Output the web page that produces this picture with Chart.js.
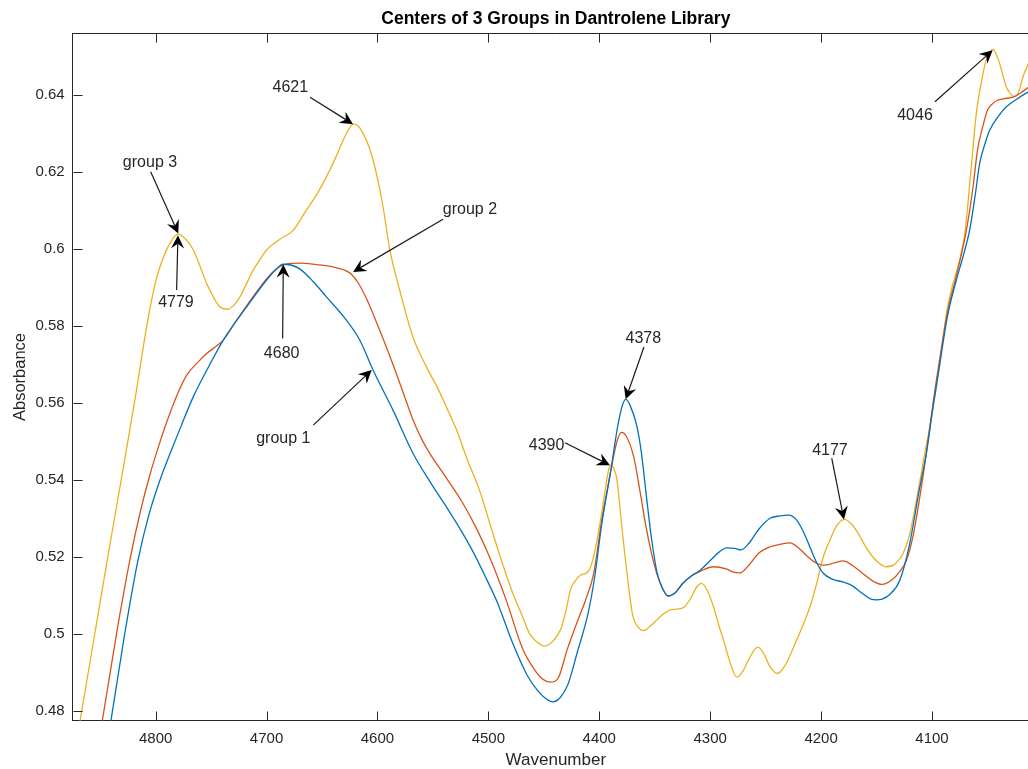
<!DOCTYPE html>
<html><head><meta charset="utf-8">
<script src="https://cdn.jsdelivr.net/npm/chart.js@4.4.1/dist/chart.umd.min.js"></script>
<style>html,body{margin:0;padding:0;background:#fff;overflow:hidden;width:1028px;height:769px}canvas{display:block}</style>
</head><body>
<canvas id="c" width="1040" height="769"></canvas>
<script>
// ---------- data ----------
const chartTitle = 'Centers of 3 Groups in Dantrolene Library';
const xTitle = 'Wavenumber';
const yTitle = 'Absorbance';
const seriesNames = ['group 1', 'group 2', 'group 3'];
const seriesColors = ['#0072BD', '#D95319', '#EDB120'];

const xTicks = [4800, 4700, 4600, 4500, 4400, 4300, 4200, 4100];
const xTickLabels = ['4800', '4700', '4600', '4500', '4400', '4300', '4200', '4100'];
const yTicks = [0.48, 0.50, 0.52, 0.54, 0.56, 0.58, 0.60, 0.62, 0.64];
const yTickLabels = ['0.48', '0.5', '0.52', '0.54', '0.56', '0.58', '0.6', '0.62', '0.64'];
const xLimits = [4003.5, 4874.8];
const yLimits = [0.4774, 0.6560];

// group 1 (blue)
const wn1 = [4880,4860,4850,4840,4828,4816,4806,4796,4787,4777,4766,4752,4739,4718,4700,4692,4685,4678,4670,4658,4646,4630,4616,4604,4586,4568,4552,4538,4525,4514,4503,4492,4478,4465,4455,4448,4442,4435,4428,4420,4410,4404,4398,4390,4383,4379,4376,4372,4366,4362,4358,4353,4348,4343,4338,4332,4325,4317,4309,4300,4292,4285,4278,4272,4265,4256,4246,4237,4229,4222,4216,4210,4204,4198,4190,4180,4172,4163,4155,4150,4145,4138,4129,4120,4112,4105,4099,4093,4086,4078,4072,4066,4061,4057,4052,4048,4040,4033,4023,4013,4003];
const ab1 = [0.405,0.440,0.458,0.4780,0.4998,0.5190,0.5310,0.5400,0.5468,0.5540,0.5616,0.5695,0.5763,0.5849,0.5919,0.5945,0.5960,0.5958,0.5948,0.5915,0.5875,0.5822,0.5763,0.5685,0.5581,0.5469,0.5392,0.5330,0.5270,0.5214,0.5150,0.5082,0.4975,0.4892,0.4850,0.4831,0.4823,0.4835,0.4870,0.4950,0.5054,0.5150,0.5280,0.5417,0.5545,0.5595,0.5609,0.5592,0.5538,0.5470,0.5370,0.5250,0.5160,0.5118,0.5098,0.5105,0.5130,0.5150,0.5165,0.5190,0.5212,0.5223,0.5222,0.5218,0.5235,0.5272,0.5300,0.5306,0.5308,0.5295,0.5265,0.5225,0.5185,0.5157,0.5142,0.5134,0.5125,0.5105,0.5090,0.5088,0.5090,0.5102,0.5139,0.5235,0.5365,0.5470,0.5590,0.5700,0.5825,0.5919,0.5980,0.6049,0.6140,0.6222,0.6275,0.6308,0.6345,0.6369,0.6390,0.6408,0.6425];

// group 2 (red)
const wn2 = [4880,4860,4848,4835,4823,4814,4805,4797,4790,4780,4772,4762,4754,4745,4739,4728,4718,4700,4690,4682,4670,4655,4640,4630,4624,4617,4609,4601,4592,4583,4575,4568,4560,4553,4538,4523,4511,4499,4484,4469,4458,4450,4444,4437,4429,4420,4412,4405,4398,4390,4384,4380,4376,4369,4363,4358,4353,4348,4343,4338,4332,4325,4317,4309,4297,4285,4279,4273,4266,4256,4246,4237,4228,4220,4212,4204,4197,4188,4180,4172,4163,4154,4145,4136,4129,4123,4117,4111,4105,4099,4093,4086,4078,4069,4063,4059,4054,4050,4045,4041,4035,4027,4020,4013,4003];
const ab2 = [0.420,0.455,0.4776,0.5005,0.5195,0.5315,0.5415,0.5490,0.5550,0.5625,0.5672,0.5705,0.5728,0.5748,0.5763,0.5810,0.5852,0.5922,0.5950,0.5961,0.5963,0.5959,0.5953,0.5945,0.5935,0.5910,0.5865,0.5810,0.5745,0.5676,0.5612,0.5556,0.5505,0.5469,0.5405,0.5339,0.5275,0.5200,0.5088,0.4960,0.4905,0.4880,0.4874,0.4885,0.4958,0.5030,0.5090,0.5157,0.5290,0.5417,0.5500,0.5523,0.5515,0.5460,0.5365,0.5280,0.5210,0.5155,0.5118,0.5098,0.5105,0.5130,0.5150,0.5162,0.5174,0.5168,0.5160,0.5158,0.5175,0.5210,0.5226,0.5232,0.5236,0.5222,0.5200,0.5183,0.5178,0.5184,0.5189,0.5178,0.5158,0.5138,0.5128,0.5140,0.5162,0.5191,0.5255,0.5355,0.5470,0.5600,0.5715,0.5835,0.5930,0.6048,0.6160,0.6256,0.6320,0.6360,0.6378,0.6386,0.6390,0.6394,0.6405,0.6420,0.6435];

// group 3 (yellow)
const wn3 = [4880,4868,4855,4843,4831,4818,4808,4800,4792,4786,4780,4773,4766,4760,4754,4748,4742,4735,4729,4724,4718,4712,4706,4700,4688,4676,4664,4655,4646,4638,4631,4626,4622,4617,4613,4607,4601,4595,4589,4580,4568,4556,4546,4538,4528,4520,4508,4496,4487,4478,4470,4463,4456,4449,4442,4435,4430,4426,4421,4417,4410,4406,4402,4396,4392,4390,4387,4384,4380,4375,4370,4364,4360,4354,4348,4342,4336,4330,4324,4318,4312,4308,4303,4297,4292,4288,4282,4276,4270,4264,4257,4251,4246,4239,4232,4222,4210,4204,4198,4192,4186,4179,4172,4166,4160,4154,4148,4141,4133,4126,4120,4114,4107,4100,4093,4087,4081,4075,4070,4065,4060,4055,4052,4048,4045,4042,4039,4036,4033,4029,4025,4021,4018,4013,4008,4003];
const ab3 = [0.457,0.4776,0.4998,0.5202,0.5401,0.5620,0.5800,0.5915,0.5985,0.6020,0.6038,0.6025,0.5997,0.5955,0.5910,0.5875,0.5849,0.5843,0.5855,0.5875,0.5910,0.5945,0.5972,0.5997,0.6025,0.6048,0.6101,0.6140,0.6187,0.6235,0.6282,0.6310,0.6324,0.6318,0.6300,0.6260,0.6196,0.6110,0.6000,0.5893,0.5771,0.5694,0.5640,0.5590,0.5525,0.5460,0.5373,0.5261,0.5180,0.5105,0.5050,0.5001,0.4978,0.4968,0.4980,0.5010,0.5060,0.5114,0.5140,0.5152,0.5161,0.5190,0.5243,0.5347,0.5420,0.5438,0.5430,0.5399,0.5287,0.5157,0.5050,0.5014,0.5008,0.5020,0.5036,0.5052,0.5062,0.5064,0.5068,0.5090,0.5122,0.5131,0.5115,0.5070,0.5020,0.4984,0.4925,0.4887,0.4905,0.4940,0.4965,0.4945,0.4914,0.4897,0.4920,0.4984,0.5070,0.5130,0.5200,0.5243,0.5280,0.5297,0.5283,0.5258,0.5227,0.5202,0.5184,0.5174,0.5182,0.5209,0.5260,0.5347,0.5460,0.5570,0.5700,0.5832,0.5910,0.5971,0.6048,0.6200,0.6352,0.6440,0.6482,0.6510,0.6518,0.6505,0.6482,0.6450,0.6421,0.6402,0.6395,0.6415,0.6447,0.6482,0.6520,0.6560];

// text arrows: label, label centre [wavenumber, absorbance], tail, head
const annoLabels = ['4621', 'group 3', '4779', '4680', 'group 2', 'group 1', '4378', '4390', '4177', '4046'];
const annoTextAt = [[4678.6,0.6418],[4805.1,0.6223],[4781.7,0.5860],[4686.4,0.5728],[4516.6,0.6101],[4684.9,0.5508],[4360.3,0.5767],[4447.5,0.5490],[4192.0,0.5477],[4115.3,0.6347]];
const annoTail = [[4660.8,0.6394],[4804.5,0.6200],[4781.1,0.5893],[4685.5,0.5767],[4540.9,0.6077],[4657.9,0.5542],[4359.7,0.5745],[4430.9,0.5496],[4190.4,0.5456],[4097.3,0.6382]];
const annoHead = [[4622.0,0.6324],[4779.6,0.6040],[4779.9,0.6035],[4684.9,0.5959],[4622.0,0.5940],[4605.2,0.5685],[4376.2,0.5609],[4390.4,0.5438],[4179.4,0.5297],[4045.3,0.6516]];

// ---------- drawing ----------
const FONT = '"Liberation Sans", Arial, Helvetica, sans-serif';
const AXIS_COLOR = '#262626';
Chart.defaults.font.family = FONT;

function zip(w, a) { return w.map((v, i) => ({ x: v, y: a[i] })); }

const datasets = [[wn1, ab1], [wn2, ab2], [wn3, ab3]].map((s, i) => ({
  label: seriesNames[i],
  data: zip(s[0], s[1]),
  borderColor: seriesColors[i],
  backgroundColor: seriesColors[i],
  borderWidth: 1.3,
  pointRadius: 0,
  fill: false,
  cubicInterpolationMode: 'monotone'
}));

const matlabAxes = {
  id: 'matlabAxes',
  afterDatasetsDraw(chart) {
    const { ctx, chartArea: a, scales: { x, y } } = chart;
    const L = 9;
    ctx.save();
    ctx.strokeStyle = AXIS_COLOR;
    ctx.lineWidth = 1;
    ctx.beginPath();
    const top = Math.round(a.top) + 0.5, bot = Math.round(a.bottom) - 0.5, left = Math.round(a.left) + 0.5;
    ctx.moveTo(a.left, top); ctx.lineTo(a.right, top);
    ctx.moveTo(a.right - 0.5, a.top); ctx.lineTo(a.right - 0.5, a.bottom);
    xTicks.forEach(t => {
      const px = Math.round(x.getPixelForValue(t)) + 0.5;
      ctx.moveTo(px, bot); ctx.lineTo(px, bot - L);
      ctx.moveTo(px, top); ctx.lineTo(px, top + L);
    });
    yTicks.forEach(t => {
      const py = Math.round(y.getPixelForValue(t)) + 0.5;
      ctx.moveTo(left, py); ctx.lineTo(left + L, py);
      ctx.moveTo(a.right, py); ctx.lineTo(a.right - L, py);
    });
    ctx.stroke();

    // annotations
    ctx.font = '16px ' + FONT;
    ctx.textAlign = 'center';
    ctx.textBaseline = 'middle';
    annoLabels.forEach((lab, i) => {
      const tx = x.getPixelForValue(annoTextAt[i][0]), ty = y.getPixelForValue(annoTextAt[i][1]);
      const x0 = x.getPixelForValue(annoTail[i][0]), y0 = y.getPixelForValue(annoTail[i][1]);
      const x1 = x.getPixelForValue(annoHead[i][0]), y1 = y.getPixelForValue(annoHead[i][1]);
      const ang = Math.atan2(y1 - y0, x1 - x0);
      const HL = 13, HW = 6.5, notch = 8.5;
      const ux = Math.cos(ang), uy = Math.sin(ang);
      ctx.strokeStyle = '#1a1a1a';
      ctx.lineWidth = 1.2;
      ctx.beginPath();
      ctx.moveTo(x0, y0);
      ctx.lineTo(x1 - ux * notch, y1 - uy * notch);
      ctx.stroke();
      ctx.fillStyle = '#000';
      ctx.beginPath();
      ctx.moveTo(x1, y1);
      ctx.lineTo(x1 - ux * HL - uy * HW, y1 - uy * HL + ux * HW);
      ctx.lineTo(x1 - ux * notch, y1 - uy * notch);
      ctx.lineTo(x1 - ux * HL + uy * HW, y1 - uy * HL - ux * HW);
      ctx.closePath();
      ctx.fill();
      ctx.fillStyle = '#262626';
      ctx.fillText(lab, tx, ty);
    });
    ctx.restore();
  }
};

new Chart(document.getElementById('c'), {
  type: 'line',
  data: { datasets },
  options: {
    responsive: false,
    animation: false,
    devicePixelRatio: 1,
    layout: { padding: { left: 0, top: 0, right: 1, bottom: 0 } },
    plugins: {
      legend: { display: false },
      tooltip: { enabled: false },
      title: {
        display: true, text: chartTitle, fullSize: false, color: '#000',
        font: { size: 17.5, weight: 'bold', lineHeight: 1 },
        padding: { top: 10.25, bottom: 5.55 }
      }
    },
    scales: {
      x: {
        type: 'linear', reverse: true, min: xLimits[0], max: xLimits[1],
        afterBuildTicks: s => { s.ticks = xTicks.map(v => ({ value: v })); },
        afterFit: s => { s.height = 48.3; },
        grid: { display: false, drawTicks: false },
        border: { display: true, color: AXIS_COLOR, width: 1 },
        ticks: { autoSkip: false, maxRotation: 0, padding: 9, color: AXIS_COLOR,
                 font: { size: 15 }, callback: (v, i) => xTickLabels[i] },
        title: { display: true, text: xTitle, color: AXIS_COLOR,
                 font: { size: 17, lineHeight: 1 }, padding: { top: 0, bottom: 0 } }
      },
      y: {
        type: 'linear', min: yLimits[0], max: yLimits[1],
        afterBuildTicks: s => { s.ticks = yTicks.map(v => ({ value: v })); },
        afterFit: s => { s.width = 72.7; },
        grid: { display: false, drawTicks: false },
        border: { display: true, color: AXIS_COLOR, width: 1 },
        ticks: { autoSkip: false, padding: 8, color: AXIS_COLOR,
                 font: { size: 15 }, callback: (v, i) => yTickLabels[i] },
        title: { display: true, text: yTitle, color: AXIS_COLOR,
                 font: { size: 16.5, lineHeight: 1 }, padding: { top: 11.75, bottom: 0 } }
      }
    }
  },
  plugins: [matlabAxes]
});
</script>
</body></html>
